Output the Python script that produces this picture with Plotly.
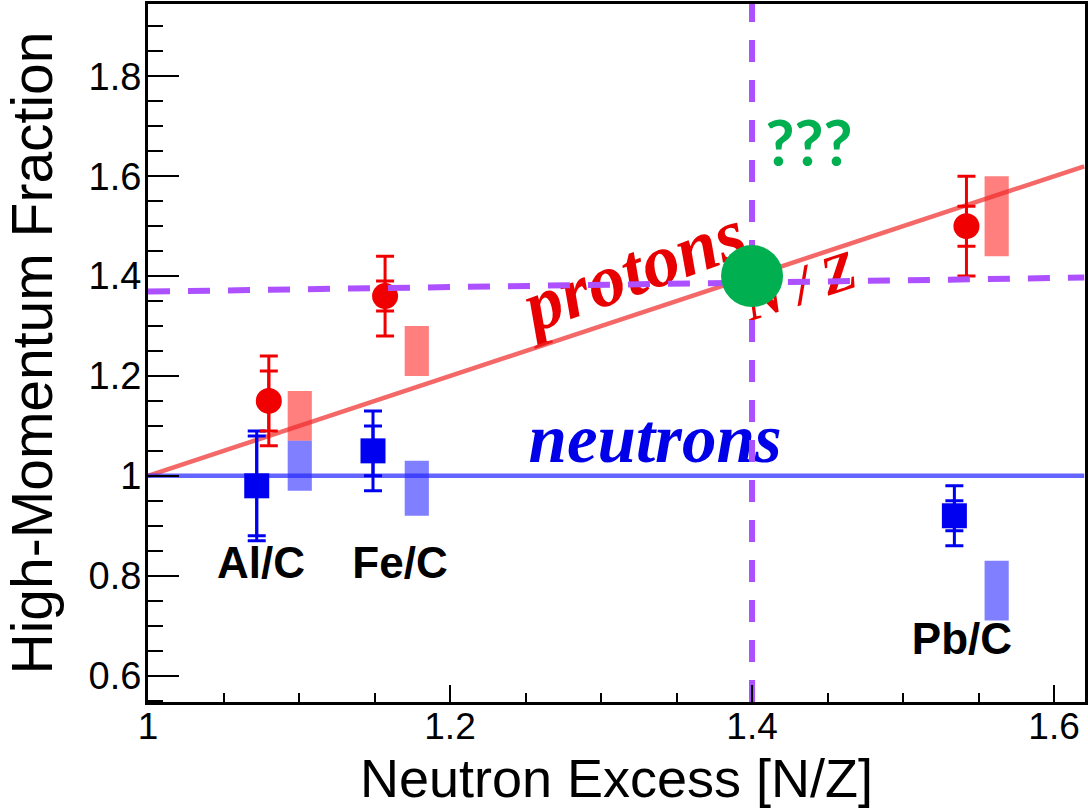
import plotly.graph_objects as go

# Nuclei ratios to carbon
targets = ["Al/C", "Fe/C", "Pb/C"]

# Protons: high-momentum fraction vs N/Z
proton_nz = [1.080, 1.157, 1.542]
proton_frac = [1.15, 1.36, 1.50]
proton_stat = [0.06, 0.03, 0.04]
proton_tot = [0.09, 0.08, 0.10]

# Neutrons
neutron_nz = [1.072, 1.149, 1.534]
neutron_frac = [0.98, 1.05, 0.92]
neutron_stat = [0.10, 0.05, 0.03]
neutron_tot = [0.11, 0.08, 0.06]

# Systematic-uncertainty bands (lower, upper), drawn beside each point
syst_nz = [1.1005, 1.178, 1.562]
proton_syst_lo = [1.07, 1.20, 1.44]
proton_syst_hi = [1.17, 1.30, 1.60]
neutron_syst_lo = [0.97, 0.92, 0.71]
neutron_syst_hi = [1.07, 1.03, 0.83]

# Expectation lines: protons scale as N/Z, neutrons stay flat
line_nz = [1.0, 1.62]
proton_line = [1.0, 1.62]
neutron_line = [1.0, 1.0]

# Guide lines toward the open question
guide_x = [1.4, 1.4]
guide_y_vert = [0.547, 1.945]
guide_h_x = [1.0, 1.62]
guide_h_y = [1.369, 1.397]
question_nz = [1.4]
question_frac = [1.4]

# Label positions
target_label_x = [1.0748, 1.1669, 1.539]
target_label_y = [0.818, 0.818, 0.665]

RED = "#F00000"
BLUE = "#0000F0"
PURPLE = "#AD50FF"
GREEN = "#00B050"

fig = go.Figure()

# systematic boxes
fig.add_trace(go.Bar(
    x=syst_nz, y=[h - l for h, l in zip(proton_syst_hi, proton_syst_lo)],
    base=proton_syst_lo, width=0.016,
    marker=dict(color="rgba(255,0,0,0.5)", line=dict(width=0)),
))
fig.add_trace(go.Bar(
    x=syst_nz, y=[h - l for h, l in zip(neutron_syst_hi, neutron_syst_lo)],
    base=neutron_syst_lo, width=0.016,
    marker=dict(color="rgba(0,0,255,0.5)", line=dict(width=0)),
))

# expectation lines
fig.add_trace(go.Scatter(x=line_nz, y=proton_line, mode="lines",
                         line=dict(color="rgba(240,40,40,0.7)", width=4.5)))
fig.add_trace(go.Scatter(x=line_nz, y=neutron_line, mode="lines",
                         line=dict(color="rgba(40,40,255,0.72)", width=4.5)))

# total error bars
fig.add_trace(go.Scatter(
    x=proton_nz, y=proton_frac, mode="markers",
    marker=dict(size=1, color=RED),
    error_y=dict(type="data", array=proton_tot, color=RED, thickness=3, width=9),
))
fig.add_trace(go.Scatter(
    x=neutron_nz, y=neutron_frac, mode="markers",
    marker=dict(size=1, color=BLUE),
    error_y=dict(type="data", array=neutron_tot, color=BLUE, thickness=3, width=9),
))
# statistical error bars with markers
fig.add_trace(go.Scatter(
    x=proton_nz, y=proton_frac, mode="markers",
    marker=dict(size=26, color=RED, symbol="circle"),
    error_y=dict(type="data", array=proton_stat, color=RED, thickness=3, width=9),
))
fig.add_trace(go.Scatter(
    x=neutron_nz, y=neutron_frac, mode="markers",
    marker=dict(size=25, color=BLUE, symbol="square"),
    error_y=dict(type="data", array=neutron_stat, color=BLUE, thickness=3, width=9),
))

# text labels
fig.add_trace(go.Scatter(
    x=target_label_x, y=target_label_y, mode="text", text=targets,
    textposition="middle center",
    textfont=dict(family="Liberation Sans", size=44, color="black", weight="bold"),
))
fig.add_trace(go.Scatter(
    x=[1.3358], y=[1.062], mode="text", text=["neutrons"],
    textposition="middle center",
    textfont=dict(family="Liberation Serif", size=69, color="#0000E8",
                  weight="bold", style="italic"),
))
fig.add_trace(go.Scatter(
    x=[1.4377], y=[1.652], mode="text", text=["???"],
    textposition="middle center",
    textfont=dict(family="Lato", size=63, color=GREEN, weight="bold"),
))

# dashed guides
fig.add_trace(go.Scatter(x=guide_h_x, y=guide_h_y, mode="lines",
                         line=dict(color=PURPLE, width=6, dash="22px,18px")))
fig.add_trace(go.Scatter(x=guide_x, y=guide_y_vert, mode="lines",
                         line=dict(color=PURPLE, width=6, dash="22px,18px")))

# the open point
fig.add_trace(go.Scatter(x=question_nz, y=question_frac, mode="markers",
                         marker=dict(size=62, color=GREEN, line=dict(width=0))))

# rotated labels along the proton line (kept beneath the traces)
def rot_label(cx, cy, text, angle, size):
    return dict(
        type="rect", xref="x", yref="y", layer="below",
        x0=cx - 0.002, x1=cx + 0.002, y0=cy - 0.002, y1=cy + 0.002,
        line=dict(width=0, color="rgba(0,0,0,0)"), fillcolor="rgba(0,0,0,0)",
        label=dict(text=text, textangle=angle, textposition="middle center",
                   font=dict(family="Liberation Serif", size=size, color="#E80000",
                             weight="bold", style="italic")),
    )

fig.update_layout(
    shapes=[rot_label(1.320, 1.428, "protons", -20, 74),
            rot_label(1.430, 1.392, "N / Z", -18, 55)],
    width=1088, height=808,
    margin=dict(l=148, r=3, t=4, b=106),
    paper_bgcolor="white", plot_bgcolor="white",
    showlegend=False, barmode="overlay",
    font=dict(family="Liberation Sans", color="black"),
)

fig.update_xaxes(
    range=[1.0, 1.6205], tick0=1.0, dtick=0.2, ticks="inside", ticklen=17, tickwidth=2,
    tickcolor="black", showline=True, linewidth=3, linecolor="black", mirror=True,
    showgrid=False, zeroline=False, automargin=False,
    minor=dict(dtick=0.05, ticks="inside", ticklen=9, tickwidth=2, tickcolor="black"),
    tickfont=dict(family="Liberation Sans", size=37, color="black"),
    ticklabelstandoff=-10,
    title=dict(text="Neutron Excess [N/Z]", standoff=20,
               font=dict(family="Liberation Sans", size=54, color="black")),
)
fig.update_yaxes(
    range=[0.547, 1.945], tick0=0.6, dtick=0.2, ticks="inside", ticklen=31, tickwidth=2,
    tickcolor="black", showline=True, linewidth=3, linecolor="black", mirror=True,
    showgrid=False, zeroline=False, automargin=False,
    minor=dict(dtick=0.05, ticks="inside", ticklen=15, tickwidth=2, tickcolor="black"),
    tickfont=dict(family="Liberation Sans", size=38, color="black"),
    ticklabelstandoff=-4,
    title=dict(text="High-Momentum Fraction", standoff=40,
               font=dict(family="Liberation Sans", size=57, color="black")),
)

fig.write_html("out.html")
